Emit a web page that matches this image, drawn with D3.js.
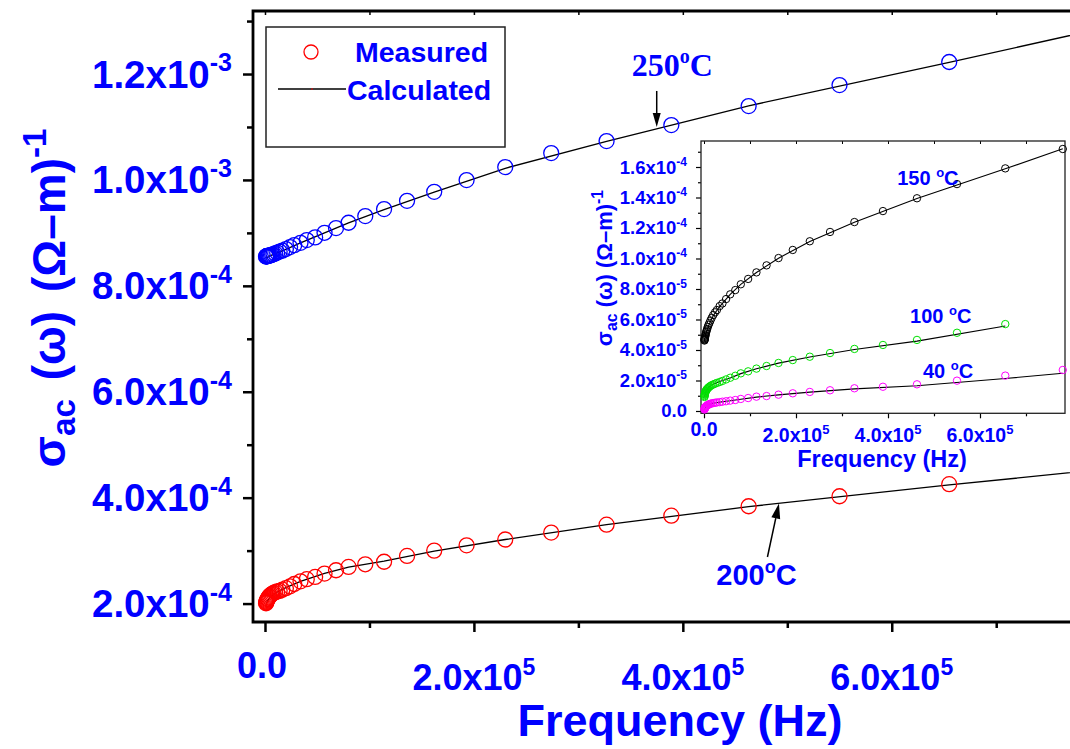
<!DOCTYPE html>
<html><head><meta charset="utf-8">
<script src="https://cdn.jsdelivr.net/npm/d3@7"></script>
<style>body{margin:0;background:#fff} svg{display:block}</style>
</head><body><svg id="c" width="1070" height="749"></svg>
<script>
// ---------- data ----------
const freq = [1000,1200,1400,1700,2000,2400,2800,3400,4000,4800,5800,6900,8200,9800,11700,14000,16600,20000,24000,28000,34000,40000,48000,57000,68000,80000,96000,114000,136000,162000,193000,230000,274000,327000,389000,463000,550000,655000,780000];

// main plot, measured
const sigma250 = [8.553e-4,8.555e-4,8.557e-4,8.559e-4,8.561e-4,8.563e-4,8.565e-4,8.568e-4,8.571e-4,8.575e-4,8.580e-4,8.590e-4,8.599e-4,8.612e-4,8.628e-4,8.647e-4,8.665e-4,8.694e-4,8.732e-4,8.769e-4,8.813e-4,8.864e-4,8.915e-4,9.002e-4,9.091e-4,9.191e-4,9.317e-4,9.449e-4,9.606e-4,9.776e-4,9.997e-4,1.0243e-3,1.0507e-3,1.0734e-3,1.1036e-3,1.1395e-3,1.1792e-3,1.2227e-3];
const sigma200 = [2.006e-4,2.020e-4,2.034e-4,2.050e-4,2.066e-4,2.082e-4,2.097e-4,2.115e-4,2.132e-4,2.150e-4,2.168e-4,2.184e-4,2.200e-4,2.215e-4,2.228e-4,2.240e-4,2.262e-4,2.290e-4,2.325e-4,2.370e-4,2.420e-4,2.460e-4,2.503e-4,2.567e-4,2.629e-4,2.692e-4,2.742e-4,2.790e-4,2.900e-4,3.000e-4,3.100e-4,3.210e-4,3.340e-4,3.490e-4,3.660e-4,3.838e-4,4.027e-4,4.254e-4];
// main plot, calculated
const calcFreqMain = [1000,4000,10000,20000,34000,57000,80000,114000,162000,230000,327000,463000,655000,785000];
const calc250 = [8.52e-4,8.56e-4,8.61e-4,8.69e-4,8.81e-4,9.00e-4,9.19e-4,9.44e-4,9.77e-4,1.022e-3,1.073e-3,1.140e-3,1.222e-3,1.279e-3];
const calc200 = [2.00e-4,2.10e-4,2.20e-4,2.30e-4,2.42e-4,2.57e-4,2.69e-4,2.80e-4,2.99e-4,3.21e-4,3.49e-4,3.83e-4,4.24e-4,4.50e-4];

// inset, measured
const sigma150 = [4.62e-5,4.66e-5,4.70e-5,4.74e-5,4.79e-5,4.85e-5,4.92e-5,4.98e-5,5.08e-5,5.18e-5,5.28e-5,5.38e-5,5.51e-5,5.64e-5,5.77e-5,5.93e-5,6.10e-5,6.29e-5,6.47e-5,6.62e-5,6.88e-5,7.05e-5,7.34e-5,7.65e-5,7.93e-5,8.31e-5,8.66e-5,9.09e-5,9.55e-5,1.003e-4,1.056e-4,1.113e-4,1.174e-4,1.239e-4,1.311e-4,1.395e-4,1.488e-4,1.591e-4,1.718e-4];
const sigma100 = [0.92e-5,0.98e-5,1.05e-5,1.10e-5,1.15e-5,1.18e-5,1.23e-5,1.27e-5,1.31e-5,1.36e-5,1.41e-5,1.44e-5,1.49e-5,1.54e-5,1.59e-5,1.64e-5,1.69e-5,1.74e-5,1.79e-5,1.84e-5,1.90e-5,1.97e-5,2.07e-5,2.18e-5,2.31e-5,2.47e-5,2.60e-5,2.78e-5,2.95e-5,3.15e-5,3.34e-5,3.56e-5,3.80e-5,4.07e-5,4.33e-5,4.66e-5,5.13e-5,5.70e-5];
const sigma40 = [0.10e-5,0.13e-5,0.15e-5,0.18e-5,0.20e-5,0.22e-5,0.24e-5,0.26e-5,0.29e-5,0.31e-5,0.34e-5,0.37e-5,0.39e-5,0.42e-5,0.45e-5,0.47e-5,0.50e-5,0.52e-5,0.54e-5,0.56e-5,0.58e-5,0.61e-5,0.64e-5,0.68e-5,0.72e-5,0.79e-5,0.85e-5,0.94e-5,0.98e-5,1.07e-5,1.16e-5,1.25e-5,1.36e-5,1.49e-5,1.59e-5,1.75e-5,1.99e-5,2.32e-5,2.69e-5];
// inset, calculated
const calcFreqInset = [1000,4000,10000,20000,34000,57000,80000,114000,162000,230000,327000,463000,655000,780000];
const calc150 = [4.60e-5,5.05e-5,5.60e-5,6.25e-5,6.85e-5,7.65e-5,8.30e-5,9.08e-5,1.002e-4,1.112e-4,1.238e-4,1.393e-4,1.588e-4,1.720e-4];
const calc100 = [0.90e-5,1.30e-5,1.55e-5,1.76e-5,1.93e-5,2.16e-5,2.45e-5,2.77e-5,3.14e-5,3.54e-5,4.03e-5,4.58e-5,5.57e-5];
const calc40 = [0.06e-5,0.27e-5,0.41e-5,0.51e-5,0.58e-5,0.67e-5,0.77e-5,0.91e-5,1.06e-5,1.24e-5,1.45e-5,1.66e-5,2.13e-5,2.48e-5];

// ticks and labels
const mainXTicks = [0,200000,400000,600000];
const mainXMinor = [100000,300000,500000,700000];
const mainXTickText = ["0.0","2.0x10","4.0x10","6.0x10"];
const mainXTickExp = ["","5","5","5"];
const mainYTicks = [2e-4,4e-4,6e-4,8e-4,1.0e-3,1.2e-3];
const mainYMinor = [3e-4,5e-4,7e-4,9e-4,1.1e-3,1.3e-3];
const mainYTickText = ["2.0x10","4.0x10","6.0x10","8.0x10","1.0x10","1.2x10"];
const mainYTickExp = ["-4","-4","-4","-4","-3","-3"];
const insetXTicks = [0,200000,400000,600000];
const insetXMinor = [100000,300000,500000,700000];
const insetXTickText = ["0.0","2.0x10","4.0x10","6.0x10"];
const insetXTickExp = ["","5","5","5"];
const insetYTicks = [0,2e-5,4e-5,6e-5,8e-5,1.0e-4,1.2e-4,1.4e-4,1.6e-4];
const insetYMinor = [1e-5,3e-5,5e-5,7e-5,9e-5,1.1e-4,1.3e-4,1.5e-4,1.7e-4];
const insetYTickText = ["0.0","2.0x10","4.0x10","6.0x10","8.0x10","1.0x10","1.2x10","1.4x10","1.6x10"];
const insetYTickExp = ["","-5","-5","-5","-5","-4","-4","-4","-4"];

// ---------- drawing ----------
const BLUE = "#0000ff";
const SANS = "'Liberation Sans', Arial, Helvetica, sans-serif";
const SERIF = "'Liberation Serif', 'Times New Roman', serif";
const svg = d3.select("#c");
svg.append("rect").attr("width",1070).attr("height",749).attr("fill","#fff");

function supText(g, x, y, base, sup, size, supSize, anchor, family) {
  const t = g.append("text").attr("x", x).attr("y", y).attr("text-anchor", anchor)
    .attr("font-family", family || SANS).attr("font-weight", "bold").attr("font-size", size).attr("fill", BLUE);
  t.append("tspan").text(base);
  if (sup) t.append("tspan").attr("font-size", supSize).attr("dy", -size * 0.42).text(sup);
  return t;
}

// main scales
const xM = d3.scaleLinear().domain([-11480, 785000]).range([253, 1085]);
const yM = d3.scaleLinear().domain([1.652e-4, 1.319e-3]).range([622, 11]);

const gM = svg.append("g");
function ticks(g, axis, transform, width) {
  const a = g.append("g").attr("transform", transform).call(axis);
  a.select(".domain").remove();
  a.selectAll("line").attr("stroke", "#000").attr("stroke-width", width);
}
ticks(gM, d3.axisBottom(xM).tickValues(mainXTicks).tickSize(10).tickFormat(""), "translate(0,622)", 2.5);
ticks(gM, d3.axisBottom(xM).tickValues(mainXMinor).tickSize(6).tickFormat(""), "translate(0,622)", 2.5);
ticks(gM, d3.axisBottom(xM).tickValues(mainXTicks.concat(mainXMinor)).tickSize(4).tickFormat(""), "translate(0,11)", 1.5);
ticks(gM, d3.axisLeft(yM).tickValues(mainYTicks).tickSize(10).tickFormat(""), "translate(253,0)", 2.5);
ticks(gM, d3.axisLeft(yM).tickValues(mainYMinor).tickSize(6).tickFormat(""), "translate(253,0)", 2.5);
gM.append("path").attr("d", d3.line()([[1085,11],[253,11],[253,622],[1085,622]]))
  .attr("fill","none").attr("stroke","#000").attr("stroke-width",2.8);

mainYTicks.forEach((v,i) => supText(gM, 232, yM(v) + 13.5, mainYTickText[i], mainYTickExp[i], 38.5, 25, "end"));
mainXTicks.forEach((v,i) => supText(gM, xM(v) - (mainXTickExp[i] ? 0 : 3), mainXTickExp[i] ? 690 : 678, mainXTickText[i], mainXTickExp[i], 36, 23, "middle"));

gM.append("text").attr("x", 680).attr("y", 736).attr("text-anchor","middle")
  .attr("font-family", SANS).attr("font-weight","bold").attr("font-size",45).attr("fill",BLUE).text("Frequency (Hz)");
function yTitle(g, x, y, size, gap) {
  const t = g.append("text").attr("transform", `translate(${x},${y}) rotate(-90)`).attr("text-anchor","middle")
    .attr("font-family", SANS).attr("font-weight","bold").attr("font-size", size).attr("fill", BLUE);
  t.append("tspan").text("σ");
  t.append("tspan").attr("font-size", size*0.72).attr("dy", size*0.22).text("ac");
  t.append("tspan").attr("dy", -size*0.22).attr("dx", gap).text(" (ω)");
  t.append("tspan").attr("dx", gap).text(" (Ω–m)");
  t.append("tspan").attr("font-size", size*0.72).attr("dy", -size*0.42).text("-1");
}
yTitle(gM, 65, 298, 46, 6);

const lineM = d3.line().x(d => xM(d[0])).y(d => yM(d[1]));
gM.append("path").attr("d", lineM(d3.zip(calcFreqMain, calc250))).attr("fill","none").attr("stroke","#000").attr("stroke-width",1.3);
gM.append("path").attr("d", lineM(d3.zip(calcFreqMain, calc200))).attr("fill","none").attr("stroke","#000").attr("stroke-width",1.3);
function markers(g, xs, ys, x, y, r, color, sw) {
  g.append("g").selectAll("circle").data(d3.zip(xs, ys)).join("circle")
    .attr("cx", d => x(d[0])).attr("cy", d => y(d[1])).attr("r", r)
    .attr("fill","none").attr("stroke", color).attr("stroke-width", sw);
}
markers(gM, freq, sigma250, xM, yM, 7.5, "#0000ff", 1.3);
markers(gM, freq, sigma200, xM, yM, 7.5, "#ff0000", 1.3);

function arrow(g, x1, y1, x2, y2, len, w) {
  const ang = Math.atan2(y2 - y1, x2 - x1);
  const bx = x2 - len * Math.cos(ang), by = y2 - len * Math.sin(ang);
  g.append("line").attr("x1", x1).attr("y1", y1).attr("x2", bx).attr("y2", by).attr("stroke","#000").attr("stroke-width",1.5);
  const px = -Math.sin(ang) * w / 2, py = Math.cos(ang) * w / 2;
  g.append("path").attr("d", `M${x2},${y2}L${bx+px},${by+py}L${bx-px},${by-py}Z`).attr("fill","#000");
}
arrow(gM, xM(3.75e5), yM(1.168e-3), xM(3.75e5), yM(1.0999e-3), 14, 8);
supText(gM, xM(3.51e5), yM(1.1962e-3), "250", "o", 32, 20, "start", SERIF).append("tspan").attr("dy", 32*0.42).text("C");
arrow(gM, xM(4.81e5), yM(2.88e-4), xM(4.92e5), yM(3.889e-4), 15, 9);
supText(gM, xM(4.32e5), yM(2.346e-4), "200", "o", 29, 18, "start").append("tspan").attr("dy", 29*0.42).text("C");

const lg = svg.append("g");
lg.append("rect").attr("x",266).attr("y",27).attr("width",239).attr("height",120).attr("fill","#fff").attr("stroke","#222").attr("stroke-width",1.5);
lg.append("circle").attr("cx",311).attr("cy",52).attr("r",7).attr("fill","none").attr("stroke","#ff0000").attr("stroke-width",1.3);
lg.append("line").attr("x1",278).attr("x2",346).attr("y1",89).attr("y2",89).attr("stroke","#000").attr("stroke-width",1.5);
lg.append("circle").attr("cx",312).attr("cy",89).attr("r",0.8).attr("fill","#ff0000");
lg.append("text").attr("x",355).attr("y",62).attr("font-family",SANS).attr("font-weight","bold").attr("font-size",28.5).attr("fill",BLUE).text("Measured");
lg.append("text").attr("x",347).attr("y",100).attr("font-family",SANS).attr("font-weight","bold").attr("font-size",28.5).attr("fill",BLUE).text("Calculated");

// ---------- inset ----------
const xI = d3.scaleLinear().domain([-6522, 784800]).range([701, 1065]);
const yI = d3.scaleLinear().domain([-1.51e-6, 1.7705e-4]).range([413.3, 141]);
const gI = svg.append("g");
gI.append("rect").attr("x",701).attr("y",141).attr("width",364).attr("height",272.3).attr("fill","#fff");
ticks(gI, d3.axisBottom(xI).tickValues(insetXTicks).tickSize(5).tickFormat(""), "translate(0,413.3)", 1.2);
ticks(gI, d3.axisBottom(xI).tickValues(insetXMinor).tickSize(3).tickFormat(""), "translate(0,413.3)", 1.2);
ticks(gI, d3.axisBottom(xI).tickValues(insetXTicks.concat(insetXMinor)).tickSize(3).tickFormat(""), "translate(0,141)", 1);
ticks(gI, d3.axisLeft(yI).tickValues(insetYTicks).tickSize(5).tickFormat(""), "translate(701,0)", 1.2);
ticks(gI, d3.axisLeft(yI).tickValues(insetYMinor).tickSize(3).tickFormat(""), "translate(701,0)", 1.2);
gI.append("rect").attr("x",701).attr("y",141).attr("width",364).attr("height",272.3).attr("fill","none").attr("stroke","#222").attr("stroke-width",1.3);

insetYTicks.forEach((v,i) => supText(gI, 687, yI(v) + 6.5, insetYTickText[i], insetYTickExp[i], 18.5, 12, "end"));
insetXTicks.forEach((v,i) => supText(gI, xI(v), insetXTickExp[i] ? 442 : 436, insetXTickText[i], insetXTickExp[i], 19.5, 13, "middle"));
gI.append("text").attr("x", 882).attr("y", 467).attr("text-anchor","middle")
  .attr("font-family", SANS).attr("font-weight","bold").attr("font-size",23.5).attr("fill",BLUE).text("Frequency (Hz)");
yTitle(gI, 612, 268, 22, 0);

const lineI = d3.line().x(d => xI(d[0])).y(d => yI(d[1]));
[calc150, calc100, calc40].forEach(c => gI.append("path").attr("d", lineI(d3.zip(calcFreqInset, c))).attr("fill","none").attr("stroke","#000").attr("stroke-width",1.1));
markers(gI, freq, sigma150, xI, yI, 3.7, "#000000", 1);
markers(gI, freq, sigma100, xI, yI, 3.7, "#00e000", 1);
markers(gI, freq, sigma40, xI, yI, 3.7, "#ff00ff", 1);

supText(gI, xI(4.2e5), yI(1.482e-4), "150 ", "o", 20, 13, "start").append("tspan").attr("dy", 20*0.42).text("C");
supText(gI, xI(4.48e5), yI(5.77e-5), "100 ", "o", 20, 13, "start").append("tspan").attr("dy", 20*0.42).text("C");
supText(gI, xI(4.76e5), yI(2.16e-5), "40 ", "o", 20, 13, "start").append("tspan").attr("dy", 20*0.42).text("C");
</script>
</body></html>
